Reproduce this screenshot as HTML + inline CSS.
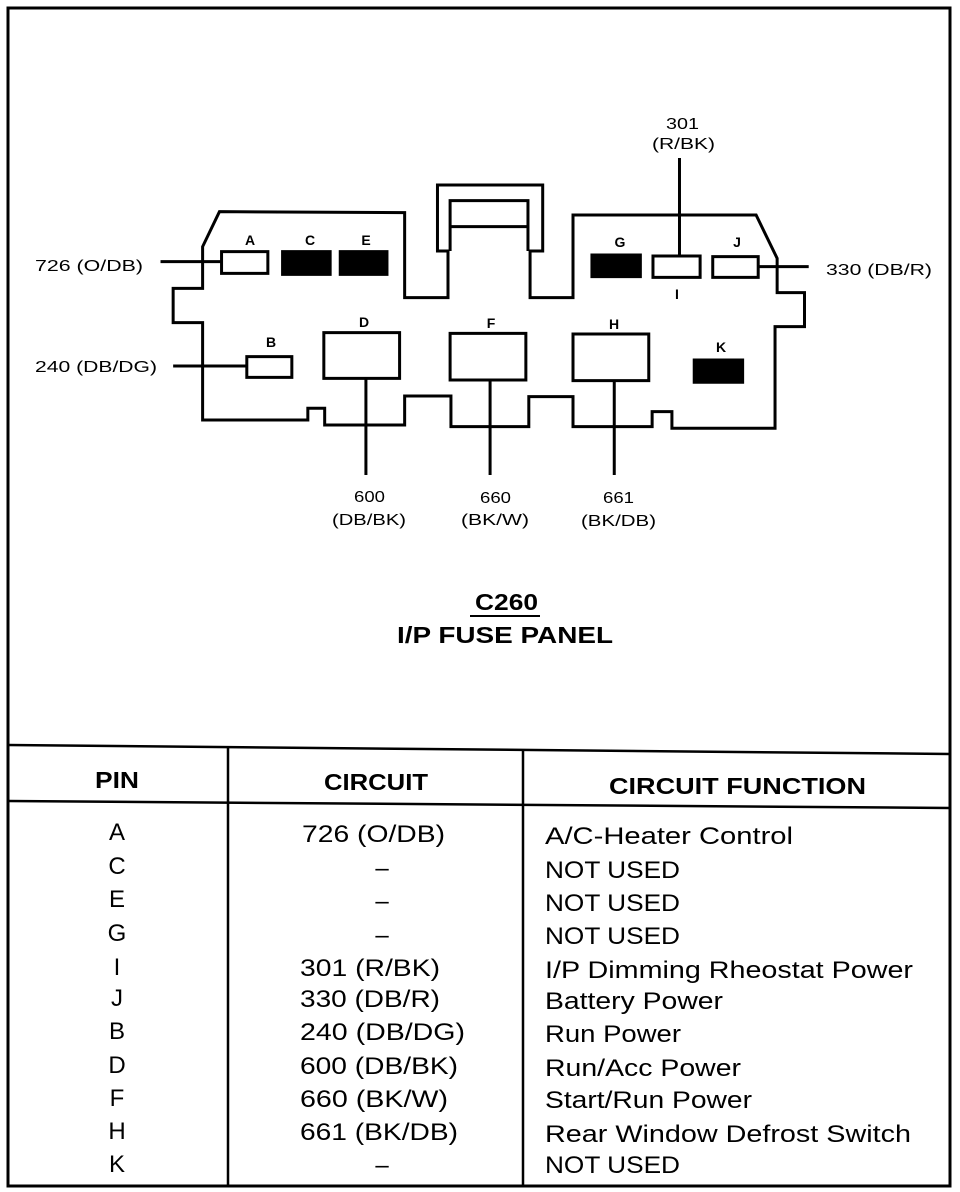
<!DOCTYPE html>
<html><head><style>
html,body{margin:0;padding:0;background:#fff;}
svg{display:block;}
text{font-family:"Liberation Sans",Arial,sans-serif;fill:#000;}
</style></head><body>
<svg width="960" height="1192" viewBox="0 0 960 1192" xmlns="http://www.w3.org/2000/svg">
<rect x="0" y="0" width="960" height="1192" fill="#fff"/>
<path d="M8 8 L950 8 L950 1186 L8 1186 Z" fill="none" stroke="#000" stroke-width="3"/>
<g transform="translate(150,170) scale(0.4209,0.3333)" fill="none" stroke="#000" stroke-width="3">
<path vector-effect="non-scaling-stroke" d="M165 125 L605 128 L605 383 L708 383 L708 243 L683 243 L683 45 L933 45 L933 243 L903 243 L903 383 L1005 383 L1005 135 L1440 135 L1490 265 L1490 368 L1555 368 L1555 470 L1485 470 L1485 775 L1240 775 L1240 725 L1193 725 L1193 770 L1005 770 L1005 680 L900 680 L900 770 L715 770 L715 678 L605 678 L605 765 L415 765 L415 715 L375 715 L375 750 L125 750 L125 458 L55 458 L55 355 L125 355 L125 230 Z"/>
<path vector-effect="non-scaling-stroke" d="M713 243 L713 92 L898 92 L898 243 M713 170 L898 170"/>
<rect vector-effect="non-scaling-stroke" x="170" y="245" width="110" height="65"/>
<rect vector-effect="non-scaling-stroke" x="315" y="245" width="113" height="68" fill="#000"/>
<rect vector-effect="non-scaling-stroke" x="452" y="245" width="111" height="68" fill="#000"/>
<rect vector-effect="non-scaling-stroke" x="1050" y="255" width="115" height="65" fill="#000"/>
<rect vector-effect="non-scaling-stroke" x="1195" y="258" width="112" height="64"/>
<rect vector-effect="non-scaling-stroke" x="1337" y="260" width="108" height="62"/>
<rect vector-effect="non-scaling-stroke" x="230" y="560" width="107" height="62"/>
<rect vector-effect="non-scaling-stroke" x="413" y="488" width="180" height="137"/>
<rect vector-effect="non-scaling-stroke" x="713" y="490" width="180" height="140"/>
<rect vector-effect="non-scaling-stroke" x="1005" y="492" width="180" height="140"/>
<rect vector-effect="non-scaling-stroke" x="1293" y="570" width="115" height="67" fill="#000"/>
<path vector-effect="non-scaling-stroke" d="M25 275 L170 275 M55 588 L230 588 M1445 290 L1565 290 M1258 -36 L1258 258 M513 625 L513 915 M808 630 L808 915 M1103 632 L1103 915"/>
</g>
<g font-size="14" font-weight="bold" text-anchor="middle">
<text x="250" y="245">A</text><text x="310" y="245">C</text><text x="366" y="245">E</text>
<text x="620" y="247">G</text><text x="737" y="247">J</text><text x="677" y="299">I</text>
<text x="364" y="327">D</text><text x="491" y="328">F</text><text x="614" y="329">H</text>
<text x="271" y="347">B</text><text x="721" y="352">K</text>
</g>
<g font-size="16">
<text x="35" y="271" textLength="108" lengthAdjust="spacingAndGlyphs">726 (O/DB)</text>
<text x="35" y="372" textLength="122" lengthAdjust="spacingAndGlyphs">240 (DB/DG)</text>
<text x="826" y="275" textLength="106" lengthAdjust="spacingAndGlyphs">330 (DB/R)</text>
<text x="666" y="129" textLength="33" lengthAdjust="spacingAndGlyphs">301</text><text x="652" y="149" textLength="63" lengthAdjust="spacingAndGlyphs">(R/BK)</text>
<text x="354" y="502" textLength="31" lengthAdjust="spacingAndGlyphs">600</text><text x="332" y="525" textLength="74" lengthAdjust="spacingAndGlyphs">(DB/BK)</text>
<text x="480" y="503" textLength="31" lengthAdjust="spacingAndGlyphs">660</text><text x="461" y="525" textLength="68" lengthAdjust="spacingAndGlyphs">(BK/W)</text>
<text x="603" y="503" textLength="31" lengthAdjust="spacingAndGlyphs">661</text><text x="581" y="526" textLength="75" lengthAdjust="spacingAndGlyphs">(BK/DB)</text>
</g>
<text x="475" y="610" font-size="23" font-weight="bold" textLength="63" lengthAdjust="spacingAndGlyphs">C260</text>
<line x1="470" y1="616" x2="540" y2="616" stroke="#000" stroke-width="2"/>
<text x="397" y="643" font-size="23" font-weight="bold" textLength="216" lengthAdjust="spacingAndGlyphs">I/P FUSE PANEL</text>
<g stroke="#000" stroke-width="2.5" fill="none">
<line x1="8" y1="745" x2="950" y2="754"/>
<line x1="8" y1="801" x2="950" y2="808"/>
<line x1="228" y1="746" x2="228" y2="1186"/>
<line x1="523" y1="749" x2="523" y2="1186"/>
</g>
<g font-size="23" font-weight="bold">
<text x="95" y="788" textLength="44" lengthAdjust="spacingAndGlyphs">PIN</text>
<text x="324" y="790" textLength="104" lengthAdjust="spacingAndGlyphs">CIRCUIT</text>
<text x="609" y="794" textLength="257" lengthAdjust="spacingAndGlyphs">CIRCUIT FUNCTION</text>
</g>
<g font-size="24" text-anchor="middle">
<text x="117" y="840">A</text><text x="117" y="874">C</text><text x="117" y="907">E</text>
<text x="117" y="941">G</text><text x="117" y="975">I</text><text x="117" y="1006">J</text>
<text x="117" y="1039">B</text><text x="117" y="1073">D</text><text x="117" y="1106">F</text>
<text x="117" y="1139">H</text><text x="117" y="1172">K</text>
<text x="382" y="876">–</text><text x="382" y="909">–</text>
<text x="382" y="943">–</text><text x="382" y="1173">–</text>
</g>
<g font-size="24">
<text x="302" y="842" textLength="143" lengthAdjust="spacingAndGlyphs">726  (O/DB)</text>
<text x="300" y="976" textLength="140" lengthAdjust="spacingAndGlyphs">301  (R/BK)</text>
<text x="300" y="1007" textLength="140" lengthAdjust="spacingAndGlyphs">330  (DB/R)</text>
<text x="300" y="1040" textLength="165" lengthAdjust="spacingAndGlyphs">240  (DB/DG)</text>
<text x="300" y="1074" textLength="158" lengthAdjust="spacingAndGlyphs">600  (DB/BK)</text>
<text x="300" y="1107" textLength="148" lengthAdjust="spacingAndGlyphs">660  (BK/W)</text>
<text x="300" y="1140" textLength="158" lengthAdjust="spacingAndGlyphs">661  (BK/DB)</text>
</g>
<g font-size="24">
<text x="545" y="844" textLength="248" lengthAdjust="spacingAndGlyphs">A/C-Heater Control</text>
<text x="545" y="878" textLength="135" lengthAdjust="spacingAndGlyphs">NOT USED</text>
<text x="545" y="911" textLength="135" lengthAdjust="spacingAndGlyphs">NOT USED</text>
<text x="545" y="944" textLength="135" lengthAdjust="spacingAndGlyphs">NOT USED</text>
<text x="545" y="978" textLength="368" lengthAdjust="spacingAndGlyphs">I/P Dimming Rheostat Power</text>
<text x="545" y="1009" textLength="178" lengthAdjust="spacingAndGlyphs">Battery Power</text>
<text x="545" y="1042" textLength="136" lengthAdjust="spacingAndGlyphs">Run Power</text>
<text x="545" y="1076" textLength="196" lengthAdjust="spacingAndGlyphs">Run/Acc Power</text>
<text x="545" y="1108" textLength="207" lengthAdjust="spacingAndGlyphs">Start/Run Power</text>
<text x="545" y="1142" textLength="366" lengthAdjust="spacingAndGlyphs">Rear Window Defrost Switch</text>
<text x="545" y="1173" textLength="135" lengthAdjust="spacingAndGlyphs">NOT USED</text>
</g>
</svg>
</body></html>
